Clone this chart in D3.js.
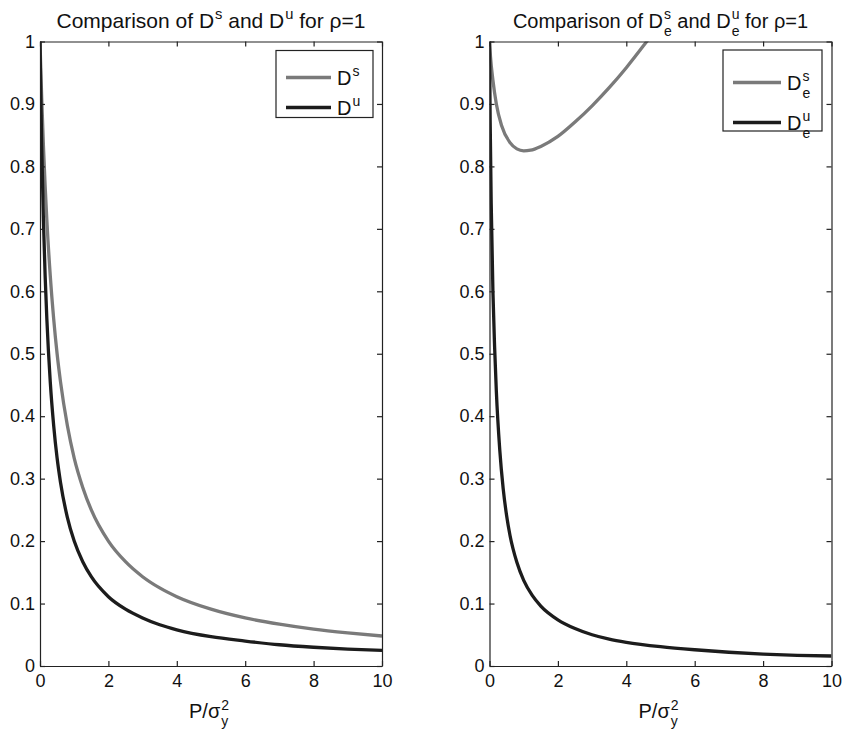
<!DOCTYPE html>
<html>
<head>
<meta charset="utf-8">
<script src="https://cdn.jsdelivr.net/npm/d3@7/dist/d3.min.js"></script>
<style>
body { margin: 0; background: #fff; }
text { font-family: "Liberation Sans", Arial, sans-serif; fill: #111; }
</style>
</head>
<body>
<svg id="chart" width="844" height="731"></svg>
<script>
// ticks
var xTicks = [0, 2, 4, 6, 8, 10];
var yTicks = [0, 0.1, 0.2, 0.3, 0.4, 0.5, 0.6, 0.7, 0.8, 0.9, 1];

// left panel: D^s and D^u
var xLeft = [0, 0.02, 0.05, 0.1, 0.15, 0.2, 0.3, 0.4, 0.5, 0.6, 0.8, 1, 1.25, 1.5, 2, 2.5, 3, 3.5, 4, 5, 6, 7, 8, 9, 10];
var dS = [1, 0.962, 0.909, 0.833, 0.769, 0.714, 0.625, 0.556, 0.5, 0.455, 0.385, 0.333, 0.286, 0.25, 0.2, 0.167, 0.143, 0.125, 0.111, 0.091, 0.077, 0.067, 0.059, 0.053, 0.048];
var dU = [1, 0.926, 0.833, 0.714, 0.625, 0.556, 0.455, 0.385, 0.333, 0.294, 0.238, 0.2, 0.167, 0.143, 0.111, 0.091, 0.077, 0.066, 0.058, 0.047, 0.04, 0.034, 0.03, 0.027, 0.025];

// right panel: D_e^u
var xRight = [0, 0.02, 0.05, 0.1, 0.15, 0.2, 0.3, 0.4, 0.5, 0.6, 0.8, 1, 1.25, 1.5, 2, 2.5, 3, 3.5, 4, 5, 6, 7, 8, 9, 10];
var dEu = [1, 0.87, 0.74, 0.6, 0.51, 0.44, 0.346, 0.284, 0.241, 0.209, 0.166, 0.137, 0.113, 0.096, 0.074, 0.06, 0.05, 0.043, 0.038, 0.031, 0.026, 0.022, 0.019, 0.017, 0.016];
// right panel: D_e^s (runs off the top of the axes past x~4.6)
var xEs = [0, 0.03, 0.1, 0.2, 0.35, 0.6, 0.8, 1, 1.2, 1.5, 2, 2.5, 3, 3.5, 4, 4.5, 5, 6];
var dEs = [1, 0.975, 0.938, 0.9, 0.866, 0.838, 0.828, 0.825, 0.826, 0.832, 0.848, 0.871, 0.897, 0.926, 0.958, 0.993, 1.03, 1.11];

var grey = "#7a7a7a", dark = "#1c1c1c";
var svg = d3.select("#chart");

// text with super/subscripts, pieces laid out one after another
function rich(parent, x, y, parts, size, anchor) {
  var g = parent.append("g");
  var cx = 0;
  parts.forEach(function(p) {
    if (p.t) {
      var t = g.append("text").attr("x", cx).attr("font-size", size)
        .text(p.t.replace(/ /g, "\u00a0"));
      cx += t.node().getComputedTextLength();
    } else {
      var w = 0;
      if (p.sup) {
        var s = g.append("text").attr("x", cx + 1).attr("y", -size * 0.42)
          .attr("font-size", size * 0.7).text(p.sup);
        w = Math.max(w, s.node().getComputedTextLength());
      }
      if (p.sub) {
        var b = g.append("text").attr("x", cx + 1).attr("y", size * 0.42)
          .attr("font-size", size * 0.7).text(p.sub);
        w = Math.max(w, b.node().getComputedTextLength());
      }
      cx += w + 1;
    }
  });
  var dx = anchor == "middle" ? x - cx / 2 : x;
  g.attr("transform", "translate(" + dx + "," + y + ")");
}

function panel(ox, id, series, title, titleSize, legend) {
  var w = 342, h = 624.5, top = 41.5;
  var g = svg.append("g").attr("transform", "translate(" + ox + "," + top + ")");
  var x = d3.scaleLinear().domain([0, 10]).range([0, w]);
  var y = d3.scaleLinear().domain([0, 1]).range([h, 0]);

  svg.append("clipPath").attr("id", id).append("rect")
    .attr("width", w).attr("height", h);

  var line = d3.line()
    .x(function(d) { return x(d[0]); })
    .y(function(d) { return y(d[1]); })
    .curve(d3.curveMonotoneX);

  series.forEach(function(s) {
    g.append("path")
      .attr("clip-path", "url(#" + id + ")")
      .attr("d", line(d3.zip(s.x, s.y)))
      .attr("fill", "none")
      .attr("stroke", s.color)
      .attr("stroke-width", 3.3)
      .attr("stroke-linejoin", "round");
  });

  // box axes, ticks pointing inward
  var ax = [
    g.append("g").attr("transform", "translate(0," + h + ")")
      .call(d3.axisBottom(x).tickValues(xTicks).tickSizeInner(-5).tickSizeOuter(0).tickPadding(8)
        .tickFormat(function(d) { return String(d); })),
    g.append("g")
      .call(d3.axisLeft(y).tickValues(yTicks).tickSizeInner(-5).tickSizeOuter(0).tickPadding(5)
        .tickFormat(function(d) { return String(d); })),
    g.append("g")
      .call(d3.axisTop(x).tickValues(xTicks).tickSizeInner(-5).tickSizeOuter(0).tickFormat("")),
    g.append("g").attr("transform", "translate(" + w + ",0)")
      .call(d3.axisRight(y).tickValues(yTicks).tickSizeInner(-5).tickSizeOuter(0).tickFormat(""))
  ];
  ax.forEach(function(a) {
    a.attr("font-size", 18).attr("font-family", '"Liberation Sans", Arial, sans-serif');
    a.selectAll("path,line").attr("stroke", "#222").attr("stroke-width", 1.2);
    a.selectAll("text").attr("fill", "#111");
  });

  rich(g, w / 2, -14, title, titleSize, "middle");
  rich(g, w / 2 - 22, h + 52, [{t: "P/\u03c3"}, {sup: "2", sub: "y"}], 20, "start");

  // legend
  var lg = g.append("g").attr("transform", "translate(" + legend.x + "," + legend.y + ")");
  lg.append("rect").attr("width", legend.w).attr("height", legend.h)
    .attr("fill", "#fff").attr("stroke", "#222").attr("stroke-width", 1.2);
  legend.items.forEach(function(it, i) {
    var ly = legend.rows[i];
    lg.append("line").attr("x1", legend.l0).attr("x2", legend.l1)
      .attr("y1", ly).attr("y2", ly)
      .attr("stroke", it.color).attr("stroke-width", 3.3);
    rich(lg, legend.l1 + 6, ly + 7, it.label, 20, "start");
  });
}

panel(40, "clipL",
  [{x: xLeft, y: dS, color: grey}, {x: xLeft, y: dU, color: dark}],
  [{t: "Comparison of D"}, {sup: "s"}, {t: " and D"}, {sup: "u"}, {t: " for \u03c1=1"}], 21,
  {x: 236, y: 9, w: 97, h: 67, l0: 10, l1: 55, rows: [27, 57],
   items: [{color: grey, label: [{t: "D"}, {sup: "s"}]},
           {color: dark, label: [{t: "D"}, {sup: "u"}]}]});

panel(489.5, "clipR",
  [{x: xEs, y: dEs, color: grey}, {x: xRight, y: dEu, color: dark}],
  [{t: "Comparison of D"}, {sup: "s", sub: "e"}, {t: " and D"}, {sup: "u", sub: "e"}, {t: " for \u03c1=1"}], 20,
  {x: 233.5, y: 8.5, w: 99, h: 81, l0: 10, l1: 58, rows: [32.5, 72.5],
   items: [{color: grey, label: [{t: "D"}, {sup: "s", sub: "e"}]},
           {color: dark, label: [{t: "D"}, {sup: "u", sub: "e"}]}]});
</script>
</body>
</html>
